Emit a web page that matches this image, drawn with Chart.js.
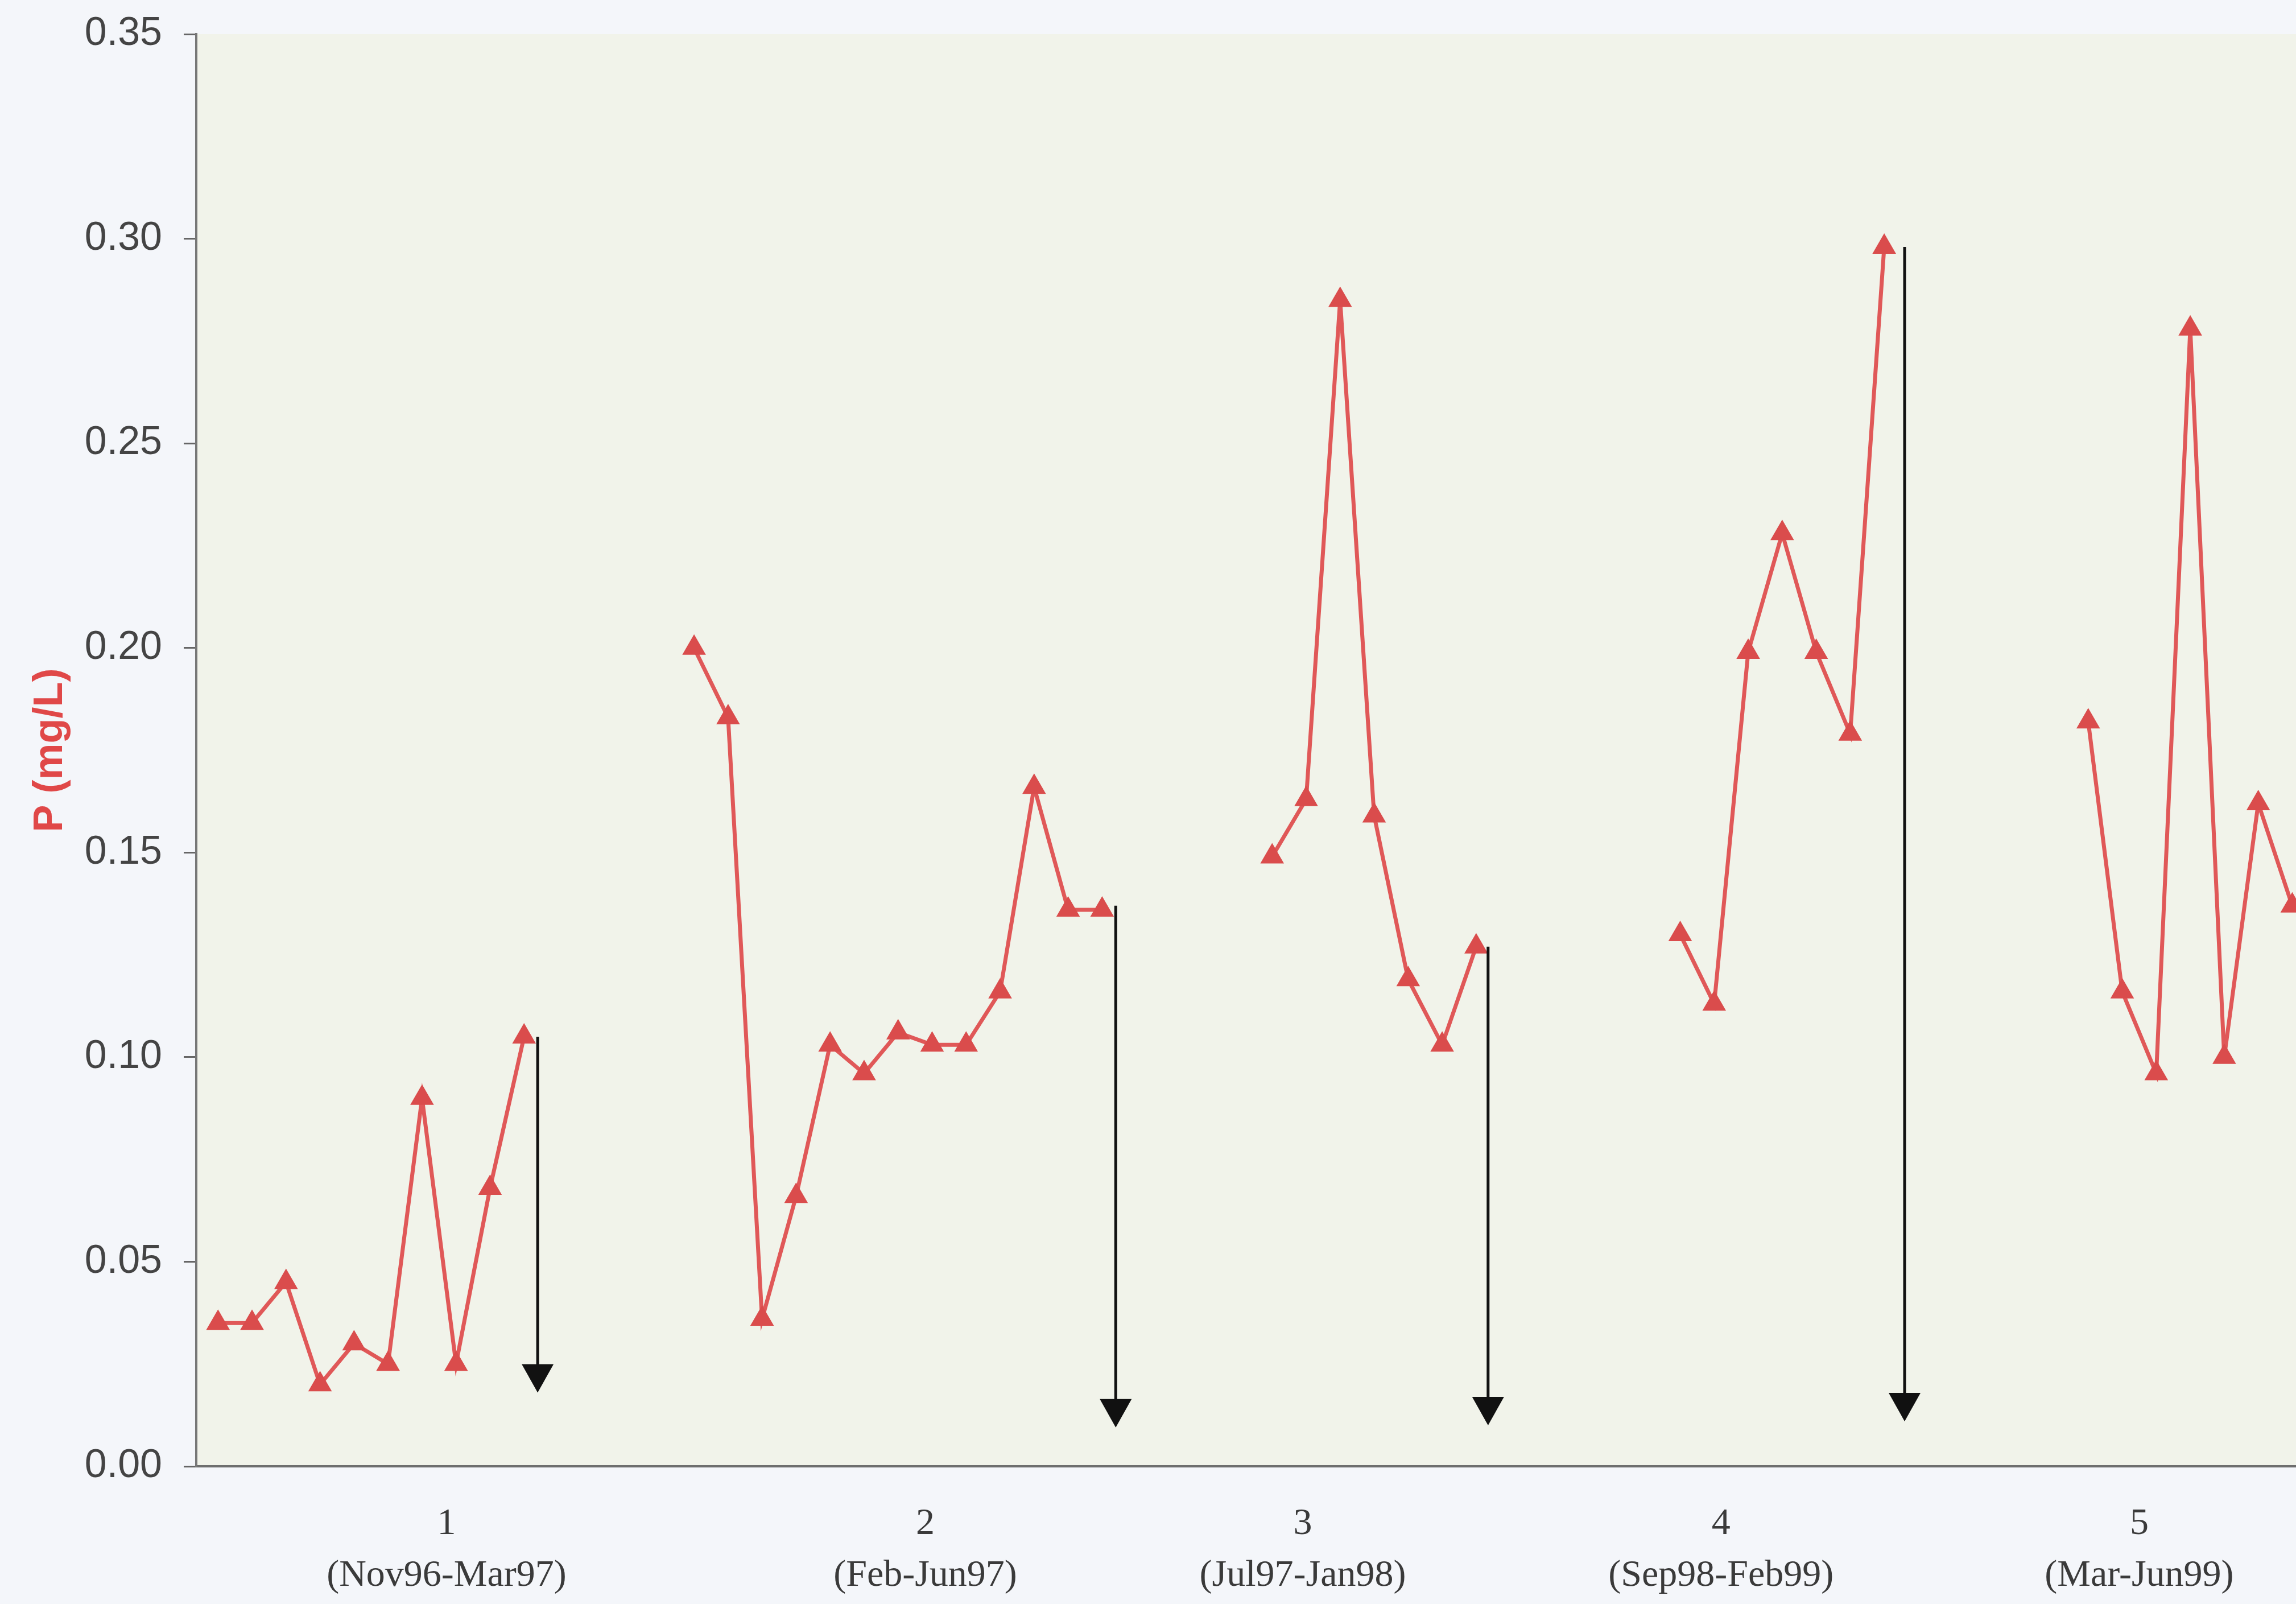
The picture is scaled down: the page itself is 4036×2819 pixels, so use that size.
<!DOCTYPE html>
<html lang="en">
<head>
<meta charset="UTF-8">
<title>P (mg/L)</title>
<script src="https://cdn.jsdelivr.net/npm/chart.js"></script>
<style>
    html, body {
        margin: 0;
        overflow: hidden;
        background-color: #f4f6fa;
    }
    canvas {
        display: block;
    }
</style>
</head>
<body>
<canvas id="myChart" width="4036" height="2819"></canvas>

<script>
    // first x-index of every sampling period
    const segStarts = [0, 14, 31, 43, 55];
    const seg1 = [0.035, 0.035, 0.045, 0.020, 0.030, 0.025, 0.090, 0.025, 0.068, 0.105];
    const seg2 = [0.200, 0.183, 0.036, 0.066, 0.103, 0.096, 0.106, 0.103, 0.103, 0.116, 0.166, 0.136, 0.136];
    const seg3 = [0.149, 0.163, 0.285, 0.159, 0.119, 0.103, 0.127];
    const seg4 = [0.130, 0.113, 0.199, 0.228, 0.199, 0.179, 0.298];
    const seg5 = [0.182, 0.116, 0.096, 0.278, 0.100, 0.162, 0.137];

    // black arrows after each period
    const arrowX = [9.4, 26.4, 37.35, 49.6];
    const arrowTop = [0.105, 0.137, 0.127, 0.298];
    const arrowTip = [0.018, 0.0095, 0.010, 0.011];

    // period labels under the axis
    const periodPos = [6.72, 20.8, 31.9, 44.2, 56.5];
    const periodNum = ['1', '2', '3', '4', '5'];
    const periodRange = ['(Nov96-Mar97)', '(Feb-Jun97)', '(Jul97-Jan98)', '(Sep98-Feb99)', '(Mar-Jun99)'];

    const yTicks = [0, 0.05, 0.10, 0.15, 0.20, 0.25, 0.30, 0.35];

    const segments = [seg1, seg2, seg3, seg4, seg5];
    const points = [];
    segments.forEach((seg, s) => {
        seg.forEach((v, i) => points.push({ x: segStarts[s] + i, y: v }));
        if (s < segments.length - 1) points.push({ x: segStarts[s] + seg.length, y: null });
    });

    const plotBg = {
        id: 'plotBg',
        beforeDraw(chart) {
            const { ctx, chartArea: a } = chart;
            ctx.save();
            ctx.fillStyle = '#f4f6fa';
            ctx.fillRect(0, 0, chart.width, chart.height);
            ctx.fillStyle = '#f1f3ea';
            ctx.fillRect(a.left, a.top, a.right - a.left, a.bottom - a.top);
            ctx.restore();
        }
    };

    const arrows = {
        id: 'arrows',
        afterDatasetsDraw(chart) {
            const { ctx, scales: { x, y } } = chart;
            ctx.save();
            ctx.strokeStyle = '#111';
            ctx.fillStyle = '#111';
            ctx.lineWidth = 5;
            arrowX.forEach((ax, i) => {
                const px = x.getPixelForValue(ax);
                const top = y.getPixelForValue(arrowTop[i]);
                const tip = y.getPixelForValue(arrowTip[i]);
                ctx.beginPath();
                ctx.moveTo(px, top);
                ctx.lineTo(px, tip - 40);
                ctx.stroke();
                ctx.beginPath();
                ctx.moveTo(px - 28, tip - 50);
                ctx.lineTo(px + 28, tip - 50);
                ctx.lineTo(px, tip);
                ctx.closePath();
                ctx.fill();
            });
            ctx.restore();
        }
    };

    const config = {
        type: 'line',
        data: {
            datasets: [{
                label: 'P',
                data: points,
                borderColor: '#e05858',
                backgroundColor: '#da4c4c',
                borderWidth: 7,
                pointStyle: 'triangle',
                pointRadius: 24,
                pointBorderWidth: 0,
                spanGaps: false
            }]
        },
        options: {
            responsive: false,
            animation: false,
            layout: { autoPadding: false, padding: { top: 60, right: 0, left: 0, bottom: 0 } },
            plugins: {
                legend: { display: false },
                tooltip: { enabled: false }
            },
            scales: {
                x: {
                    type: 'linear',
                    min: -0.64,
                    max: 61.11,
                    afterBuildTicks: (scale) => {
                        scale.ticks = periodPos.map(v => ({ value: v }));
                    },
                    afterFit: (scale) => {
                        scale.height = 242;
                        scale.paddingLeft = 0;
                        scale.paddingRight = 0;
                    },
                    grid: { display: false, drawTicks: false },
                    border: { display: true, color: '#6e6e6e', width: 4 },
                    ticks: {
                        autoSkip: false,
                        maxRotation: 0,
                        padding: 56,
                        color: '#3a3a3a',
                        font: { family: 'Liberation Serif', size: 66, lineHeight: 1.38 },
                        callback: (v, i) => [periodNum[i], periodRange[i]]
                    }
                },
                y: {
                    min: 0,
                    max: 0.35,
                    afterBuildTicks: (scale) => {
                        scale.ticks = yTicks.map(v => ({ value: v }));
                    },
                    afterFit: (scale) => {
                        scale.width = 345;
                        scale.paddingTop = 0;
                        scale.paddingBottom = 0;
                    },
                    grid: { drawOnChartArea: false, drawTicks: true, tickLength: 22, color: '#666', lineWidth: 3 },
                    border: { display: true, color: '#777', width: 4 },
                    ticks: {
                        padding: 38,
                        color: '#444',
                        font: { family: 'Liberation Sans', size: 70 },
                        callback: (v) => v.toFixed(2)
                    },
                    title: {
                        display: true,
                        text: 'P (mg/L)',
                        color: '#e04848',
                        font: { family: 'Liberation Sans', size: 72, weight: 'bold' },
                        padding: { top: 46, bottom: 0 }
                    }
                }
            }
        },
        plugins: [plotBg, arrows]
    };

    const myChart = new Chart(document.getElementById('myChart'), config);
</script>
</body>
</html>
